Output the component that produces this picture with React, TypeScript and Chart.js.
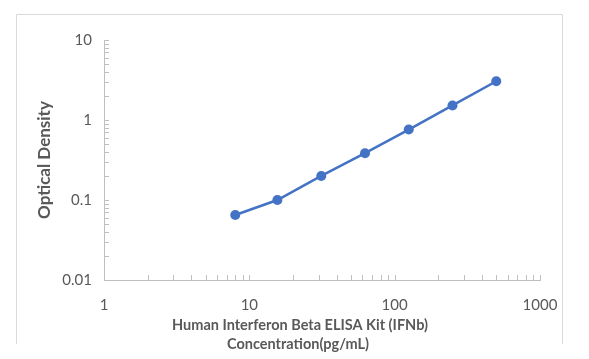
import React, { useEffect, useRef } from "react";
import { Chart, registerables } from "chart.js";

Chart.register(...registerables);

const concentrations = [8, 15.6, 31.25, 62.5, 125, 250, 500];
const opticalDensity = [0.065, 0.1, 0.2, 0.385, 0.76, 1.52, 3.05];
const xTickValues = [1, 10, 100, 1000];
const yTickValues = [0.01, 0.1, 1, 10];
const yTitle = "Optical Density";
const xTitleLines = ["Human Interferon Beta ELISA Kit (IFNb)", "Concentration(pg/mL)"];

const FONT = "Lato, 'Open Sans', sans-serif";
const GRAY = "#595959";
const AXIS = "#bfbfbf";

const decorPlugin = {
  id: "decor",
  beforeDraw(chart: any) {
    const ctx = chart.ctx;
    ctx.save();
    ctx.strokeStyle = "#d9d9d9";
    ctx.lineWidth = 1;
    ctx.beginPath();
    ctx.moveTo(16.5, 344);
    ctx.lineTo(16.5, 14.5);
    ctx.lineTo(562.5, 14.5);
    ctx.lineTo(562.5, 344);
    ctx.stroke();
    ctx.restore();
  },
  afterDraw(chart: any) {
    const ctx = chart.ctx;
    const xs = chart.scales.x;
    const ys = chart.scales.y;
    const area = chart.chartArea;
    ctx.save();
    ctx.strokeStyle = AXIS;
    ctx.lineWidth = 1;
    ctx.beginPath();
    for (let d = 1; d < 1000; d *= 10) {
      for (let m = 1; m <= 10; m++) {
        const v = d * m;
        const px = Math.round(xs.getPixelForValue(v)) + 0.5;
        ctx.moveTo(px, area.bottom);
        ctx.lineTo(px, area.bottom - 5);
      }
    }
    for (let d = 0.01; d < 10; d *= 10) {
      for (let m = 1; m <= 10; m++) {
        const v = d * m;
        const py = Math.round(ys.getPixelForValue(v)) + 0.5;
        ctx.moveTo(area.left, py);
        ctx.lineTo(area.left + 5, py);
      }
    }
    ctx.stroke();

    ctx.fillStyle = GRAY;
    ctx.textAlign = "center";
    ctx.textBaseline = "middle";
    ctx.font = `bold 14.5px ${FONT}`;
    ctx.fillText(xTitleLines[0], 300, 325);
    ctx.fillText(xTitleLines[1], 298, 344);

    ctx.translate(45, 160);
    ctx.rotate(-Math.PI / 2);
    ctx.font = `bold 17px ${FONT}`;
    ctx.fillText(yTitle, 0, 0);
    ctx.restore();
  },
};

export default function App() {
  const ref = useRef<HTMLCanvasElement | null>(null);
  useEffect(() => {
    document.body.style.margin = "0";
    const canvas = ref.current!;
    const chart = new Chart(canvas, {
      type: "line",
      data: {
        datasets: [
          {
            data: concentrations.map((c, i) => ({ x: c, y: opticalDensity[i] })),
            borderColor: "#4472c4",
            backgroundColor: "#4472c4",
            borderWidth: 2.5,
            pointRadius: 5,
            pointBorderWidth: 0,
            tension: 0,
          },
        ],
      },
      options: {
        responsive: false,
        animation: false,
        layout: { padding: { left: 0, top: 40, right: 49, bottom: 0 } },
        plugins: { legend: { display: false }, tooltip: { enabled: false } },
        scales: {
          x: {
            type: "logarithmic",
            min: 1,
            max: 1000,
            afterBuildTicks: (s: any) => {
              s.ticks = xTickValues.map((v) => ({ value: v }));
            },
            afterFit: (s: any) => {
              s.height = 79;
            },
            grid: { display: false, drawTicks: false },
            border: { display: true, color: AXIS, width: 1 },
            ticks: {
              callback: (v: any) => String(v),
              font: { family: FONT, size: 15 },
              color: GRAY,
              padding: 16,
              maxRotation: 0,
              autoSkip: false,
            },
          },
          y: {
            type: "logarithmic",
            min: 0.01,
            max: 10,
            afterBuildTicks: (s: any) => {
              s.ticks = yTickValues.map((v) => ({ value: v }));
            },
            afterFit: (s: any) => {
              s.width = 104;
            },
            grid: { display: false, drawTicks: false },
            border: { display: true, color: AXIS, width: 1 },
            ticks: {
              callback: (v: any) => String(v),
              font: { family: FONT, size: 15 },
              color: GRAY,
              padding: 12,
              autoSkip: false,
            },
          },
        },
      },
      plugins: [decorPlugin],
    } as any);
    return () => chart.destroy();
  }, []);
  return (
    <div style={{ width: 589, height: 359, background: "#fff" }}>
      <canvas ref={ref} width={589} height={359} style={{ display: "block" }} />
    </div>
  );
}
